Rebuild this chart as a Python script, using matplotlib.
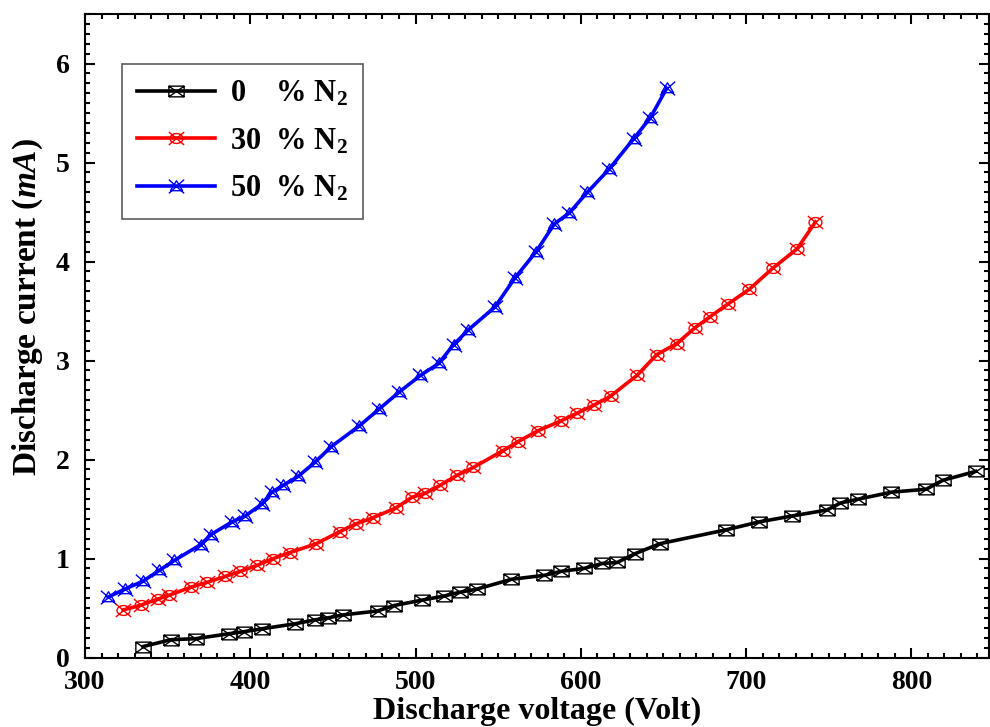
import numpy as np
import matplotlib
matplotlib.use("Agg")
import matplotlib.pyplot as plt
from matplotlib.path import Path
from matplotlib.ticker import MultipleLocator

# ---------------- data ----------------
v_0 = [335, 352, 367, 387, 396, 407, 427, 439, 447, 456, 477, 487, 504, 517, 527, 537,
       558, 578, 588, 602, 613, 622, 633, 648, 688, 708, 728, 749, 757, 768, 788, 809,
       819, 839]
i_0 = [0.11, 0.18, 0.19, 0.24, 0.26, 0.29, 0.34, 0.38, 0.40, 0.43, 0.47, 0.525, 0.58,
       0.62, 0.66, 0.69, 0.79, 0.83, 0.87, 0.90, 0.95, 0.96, 1.05, 1.15, 1.29, 1.37,
       1.43, 1.49, 1.56, 1.60, 1.67, 1.70, 1.79, 1.88]

v_30 = [323, 334, 344, 351, 364, 374, 385, 394, 404, 414, 424, 440, 454, 464, 474, 488,
        498, 506, 515, 525, 535, 553, 562, 574, 588, 598, 608, 618, 634, 646, 658, 669,
        678, 689, 702, 716, 731, 742]
i_30 = [0.48, 0.53, 0.59, 0.63, 0.71, 0.76, 0.82, 0.87, 0.93, 1.00, 1.06, 1.15, 1.27,
        1.35, 1.41, 1.51, 1.62, 1.66, 1.74, 1.84, 1.92, 2.09, 2.18, 2.29, 2.39, 2.47,
        2.55, 2.64, 2.85, 3.06, 3.17, 3.33, 3.44, 3.57, 3.72, 3.93, 4.13, 4.40]

v_50 = [314, 324, 335, 345, 354, 370, 376, 389, 397, 407, 413, 420, 429, 439, 449, 466,
        478, 490, 503, 514, 523, 532, 548, 560, 573, 584, 593, 604, 617, 632, 642, 652]
i_50 = [0.61, 0.69, 0.77, 0.88, 0.98, 1.14, 1.24, 1.37, 1.43, 1.55, 1.67, 1.74, 1.83,
        1.97, 2.13, 2.34, 2.51, 2.68, 2.85, 2.97, 3.16, 3.31, 3.54, 3.83, 4.10, 4.38,
        4.49, 4.70, 4.93, 5.24, 5.45, 5.75]

labels = [r"0    % N$_\mathbf{2}$", r"30  % N$_\mathbf{2}$", r"50  % N$_\mathbf{2}$"]
colors = ["#000000", "#ff0000", "#0000ff"]

# ---------------- marker shapes ----------------
M, L = Path.MOVETO, Path.LINETO
sq_x = Path([(-1, -0.7), (1, -0.7), (1, 0.7), (-1, 0.7), (-1, -0.7),
             (-1, -0.7), (1, 0.7), (-1, 0.7), (1, -0.7)],
            [M, L, L, L, L, M, L, M, L])
t = np.linspace(0, 2 * np.pi, 25)
ell_v = list(zip(0.85 * np.cos(t), 0.65 * np.sin(t)))
ell_x = Path(ell_v + [(-1, -0.85), (1, 0.85), (-1, 0.85), (1, -0.85)],
             [M] + [L] * (len(ell_v) - 1) + [M, L, M, L])
tri_x = Path([(-0.8, -0.55), (0.8, -0.55), (0, 0.75), (-0.8, -0.55),
              (-1, -0.9), (1, 0.9), (-1, 0.9), (1, -0.9)],
             [M, L, L, L, M, L, M, L])
markers = [sq_x, ell_x, tri_x]

# ---------------- figure ----------------
plt.rcParams['font.family'] = ['Liberation Serif', 'DejaVu Serif']
plt.rcParams['font.weight'] = 'bold'
plt.rcParams['mathtext.fontset'] = 'custom'
plt.rcParams['mathtext.rm'] = 'Liberation Serif:bold'
plt.rcParams['mathtext.it'] = 'Liberation Serif:italic:bold'
plt.rcParams['mathtext.bf'] = 'Liberation Serif:bold'

fig = plt.figure(figsize=(9.9, 7.27), dpi=100)
ax = fig.add_axes([85 / 990, (727 - 657.5) / 727, (989 - 85) / 990, (657.5 - 14) / 727])

series = [(v_0, i_0), (v_30, i_30), (v_50, i_50)]
for (v, i), c, m, lab in zip(series, colors, markers, labels):
    ax.plot(v, i, color=c, lw=2.6, marker=m, markersize=11, markerfacecolor='none',
            markeredgecolor=c, markeredgewidth=1.0, label=lab, zorder=3)

ax.set_xlim(300, 847)
ax.set_ylim(0, 6.5)
ax.xaxis.set_major_locator(MultipleLocator(100))
ax.xaxis.set_minor_locator(MultipleLocator(10))
ax.yaxis.set_major_locator(MultipleLocator(1))
ax.yaxis.set_minor_locator(MultipleLocator(0.1))
ax.tick_params(which='both', direction='in', top=True, right=True, width=1.5,
               labelsize=20)
ax.tick_params(which='major', length=7)
ax.tick_params(which='minor', length=3.5)
ax.tick_params(axis='x', pad=9)
ax.tick_params(axis='y', pad=11)
for s in ax.spines.values():
    s.set_linewidth(1.5)

ax.set_xlabel("Discharge voltage (Volt)", fontsize=23, fontweight='bold')
ax.xaxis.set_label_coords(0.5, -0.061)
ax.set_ylabel(r"Discharge current ($mA$)", fontsize=24, fontweight='bold')
ax.yaxis.set_label_coords(-0.044, 0.545)

leg = ax.legend(loc='upper left', bbox_to_anchor=(0.0406, 0.922), borderaxespad=0,
                numpoints=1, fontsize=22, handlelength=2.55, handletextpad=0.5,
                labelspacing=0.58, borderpad=0.5, fancybox=False, frameon=True,
                edgecolor='#333333')
leg.get_frame().set_linewidth(1.2)

fig.savefig("out.png", dpi=100)
